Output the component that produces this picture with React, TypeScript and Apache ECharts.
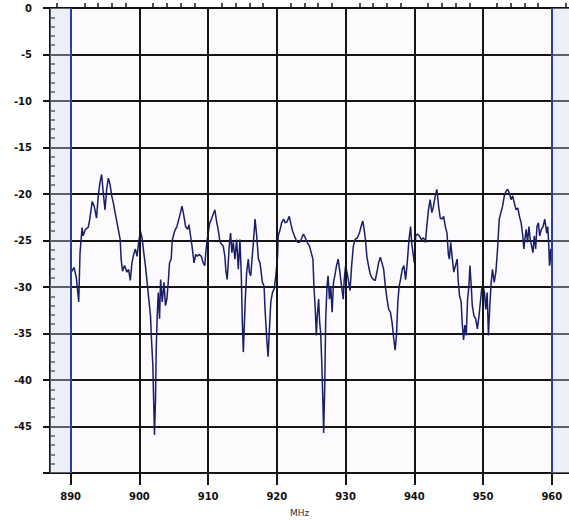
import React, { useEffect, useRef } from "react";
import * as echarts from "echarts";

// Frequency (MHz) of each sweep sample
const freqs = [
  890.1, 890.5, 890.83, 891.18, 891.37, 891.67, 891.81, 892.16, 892.55, 892.79,
  893.14, 893.43, 893.77, 894.02, 894.26, 894.51, 894.75, 895.0, 895.25, 895.49,
  895.74, 895.98, 896.23, 896.47, 896.86, 897.21, 897.35, 897.55, 897.84, 898.19,
  898.43, 898.68, 898.92, 899.17, 899.41, 899.66, 899.9, 900.15, 900.39, 900.64,
  900.88, 901.13, 901.37, 901.62, 901.76, 901.96, 902.06, 902.2, 902.35, 902.45,
  902.6, 902.75, 902.94, 903.09, 903.33, 903.58,
  903.8, 904.0, 904.2, 904.39, 904.63, 904.78, 905.12, 905.46, 905.85, 906.2,
  906.44, 906.73, 907.02, 907.22, 907.41, 907.71, 907.95, 908.2, 908.44, 908.68,
  909.02, 909.27, 909.51, 909.66, 909.85, 910.05, 910.24, 910.49, 910.73, 910.98,
  911.22, 911.46, 911.71, 911.95, 912.2, 912.44, 912.59, 912.78, 912.93, 913.07,
  913.27, 913.46, 913.66, 913.9, 914.15, 914.39, 914.63, 914.83, 914.98, 915.12,
  915.27, 915.41, 915.61, 915.85, 916.0, 916.2, 916.39, 916.59, 916.83,
  917.07, 917.32, 917.55, 917.9, 918.14, 918.28, 918.53, 918.73, 918.92, 919.12,
  919.36, 919.61, 919.85, 920.1, 920.2, 920.49, 920.69, 920.98, 921.23, 921.47,
  921.81, 922.06, 922.3, 922.55, 922.79, 923.04, 923.28, 923.53, 923.87, 924.12,
  924.41, 924.75, 925.0, 925.25, 925.39, 925.59, 925.74, 925.88, 926.08, 926.23,
  926.37, 926.52, 926.67, 926.81, 926.96, 927.11, 927.3, 927.45, 927.65, 927.84,
  928.04, 928.24, 928.43, 928.68, 928.92, 929.17, 929.41, 929.66, 929.8, 930.0,
  930.2, 930.39, 930.64, 930.88, 931.13, 931.37,
  931.72, 932.01, 932.25, 932.5, 932.7, 932.89, 933.09, 933.33, 933.58, 933.82,
  934.07, 934.31, 934.56, 934.8, 935.05, 935.29, 935.54, 935.78, 936.03, 936.27,
  936.52, 936.76, 937.01, 937.21, 937.4, 937.6, 937.79, 937.99, 938.24, 938.48,
  938.73, 938.97, 939.22, 939.46, 939.61, 939.8, 940.0, 940.2, 940.44, 940.74,
  941.03, 941.32, 941.62, 941.81, 942.06, 942.3, 942.55, 942.79, 943.04, 943.28,
  943.53, 943.77, 944.02, 944.26, 944.51, 944.75, 944.95, 945.1, 945.29, 945.49,
  945.74, 945.98, 946.23, 946.37, 946.57, 946.81, 946.96, 947.16, 947.35, 947.55,
  947.75, 947.94, 948.09, 948.28, 948.43, 948.68, 948.92, 949.17, 949.41, 949.61,
  949.8, 950.0, 950.2, 950.39, 950.59, 950.78, 950.98, 951.18, 951.37, 951.62,
  951.86, 952.11, 952.35, 952.6, 952.84, 953.09, 953.33, 953.58, 953.82, 954.07,
  954.31, 954.56, 954.8, 955.05, 955.29, 955.54, 955.78, 955.93, 956.08, 956.27,
  956.47, 956.67, 956.86, 957.06, 957.25, 957.45, 957.65, 957.84, 958.04, 958.24,
  958.48, 958.73, 958.97, 959.26, 959.41, 959.56, 959.66, 959.85, 960.0,
];

// Measured level (dB) of each sample
const levels = [
  -28.4, -27.9, -29.0, -31.6, -26.3, -23.6, -24.5, -23.8, -23.6, -22.7,
  -20.8, -21.3, -22.6, -20.2, -18.8, -17.9, -19.9, -21.7, -19.4, -18.3,
  -19.0, -20.2, -21.0, -22.0, -23.5, -24.9, -27.0, -28.3, -27.7, -28.4,
  -28.1, -29.3, -27.4, -26.5, -25.9, -26.7, -25.2, -24.0, -24.7, -26.3,
  -27.7, -29.5, -31.3, -33.1, -35.6, -38.4, -41.6, -45.9, -42.0, -36.7,
  -33.1, -30.6, -33.4, -29.2, -31.6, -29.5,
  -32.0, -31.3, -29.5, -27.4, -27.0, -25.0, -24.0, -23.5, -22.4, -21.3,
  -22.2, -23.5, -23.8, -23.3, -24.3, -25.9, -27.4, -26.5, -26.7, -26.5,
  -26.7, -27.4, -27.7, -26.3, -25.0, -24.0, -23.1, -22.7, -22.2, -21.7,
  -22.9, -23.8, -25.1, -25.4, -25.6, -26.7, -28.3, -29.2, -27.4, -25.6,
  -24.2, -26.3, -25.2, -27.0, -24.9, -28.1, -24.9, -28.8, -33.8, -37.0,
  -34.1, -31.3, -28.4, -27.0, -28.4, -28.8, -27.0, -25.2, -22.7,
  -24.5, -27.0, -27.4, -29.5, -29.9, -32.4, -35.6, -37.5, -34.5, -31.6,
  -30.6, -30.2, -28.8, -26.7, -24.5, -23.8, -23.1, -22.7, -23.1, -23.0,
  -22.4, -23.3, -24.0, -24.5, -24.9, -25.2, -25.2, -24.9, -24.3, -24.7,
  -25.2, -25.6, -26.3, -27.0, -29.9, -32.4, -35.2, -33.1, -31.3, -33.8,
  -34.9, -37.8, -41.6, -45.7, -40.9, -33.4, -29.9, -28.8, -31.3, -29.9,
  -32.7, -29.5, -28.8, -27.7, -27.0, -28.4, -29.9, -31.3, -29.2, -27.7,
  -28.4, -29.2, -30.4, -27.7, -25.6, -24.9,
  -24.7, -24.2, -23.5, -22.9, -23.8, -24.9, -26.7, -27.7, -28.6, -29.0,
  -29.2, -29.3, -28.4, -27.4, -26.8, -27.4, -28.1, -29.9, -31.3, -32.4,
  -32.7, -33.8, -35.6, -36.8, -35.2, -31.6, -29.9, -29.2, -28.1, -27.7,
  -29.2, -27.4, -24.9, -23.5, -25.2, -26.3, -27.4, -24.5, -24.3, -24.5,
  -24.9, -24.7, -25.2, -23.5, -21.7, -20.6, -22.0, -21.3, -20.2, -19.5,
  -21.3, -22.6, -22.7, -22.4, -23.5, -24.2, -26.5, -27.0, -25.2, -26.7,
  -28.4, -27.7, -27.0, -29.2, -30.9, -31.6, -33.8, -35.7, -34.1, -35.2,
  -31.3, -29.9, -27.7, -29.9, -32.0, -33.1, -33.4, -34.5, -33.1, -31.6,
  -30.2, -29.9, -30.6, -32.4, -30.6, -35.2, -32.0, -29.5, -28.1, -29.5,
  -28.4, -25.9, -22.7, -22.0, -21.3, -20.2, -19.7, -19.5, -19.9, -20.6,
  -20.2, -21.0, -21.7, -21.5, -22.4, -23.1, -24.5, -25.9, -24.9, -23.8,
  -25.2, -23.5, -24.9, -25.6, -26.3, -24.5, -25.9, -23.5, -23.1, -24.5,
  -23.8, -23.5, -22.7, -24.2, -23.5, -25.6, -27.7, -25.9, -28.0,
];

const xRange = [887, 962.5];
const yRange = [-50, 0];
const xMajorTicks = [890, 900, 910, 920, 930, 940, 950, 960];
const xMinorTicks = [
  888, 892, 894, 896, 898, 902, 904, 906, 908, 912, 914, 916, 918, 922, 924, 926, 928,
  932, 934, 936, 938, 942, 944, 946, 948, 952, 954, 956, 958, 962,
];
const bandEdges = [890, 960];
const xAxisTitle = "MHz";

export default function App() {
  const ref = useRef<HTMLDivElement>(null);
  useEffect(() => {
    const chart = echarts.init(ref.current as HTMLDivElement, null, { renderer: "svg" });
    const points = freqs.map((f, i) => [f, levels[i]]);
    const ink = "#151515";
    const labelStyle = {
      color: "#111",
      fontFamily: "DejaVu Sans",
      fontSize: 10,
      fontWeight: "bold" as const,
    };
    chart.setOption({
      animation: false,
      backgroundColor: "#ffffff",
      grid: {
        left: 50,
        right: 0,
        top: 8,
        bottom: 48,
        show: true,
        backgroundColor: "#fcfafd",
        borderWidth: 0,
      },
      xAxis: [
        {
          type: "value",
          min: xRange[0],
          max: xRange[1],
          position: "bottom",
          axisLine: { show: true, onZero: false, lineStyle: { color: ink, width: 2 } },
          axisTick: {
            show: true,
            inside: false,
            length: 12,
            customValues: xMajorTicks,
            lineStyle: { color: ink, width: 2 },
          },
          axisLabel: { ...labelStyle, customValues: xMajorTicks, margin: 18 },
          splitLine: { show: false },
        },
        {
          type: "value",
          min: xRange[0],
          max: xRange[1],
          position: "bottom",
          axisLine: { show: false },
          axisTick: {
            show: true,
            inside: true,
            length: 5,
            customValues: xMinorTicks,
            lineStyle: { color: ink, width: 1.5 },
          },
          axisLabel: { show: false },
          splitLine: { show: false },
        },
      ],
      yAxis: [
        {
          type: "value",
          min: yRange[0],
          max: yRange[1],
          interval: 5,
          axisLine: { show: true, onZero: false, lineStyle: { color: ink, width: 2 } },
          axisTick: { show: true, inside: false, length: 7, lineStyle: { color: ink, width: 2 } },
          axisLabel: {
            ...labelStyle,
            margin: 18,
            formatter: (v: number) => (v === yRange[0] ? "" : String(v)),
          },
          splitLine: { show: true, lineStyle: { color: ink, width: 2 } },
        },
        {
          type: "value",
          min: yRange[0],
          max: yRange[1],
          interval: 1,
          position: "left",
          axisLine: { show: false },
          axisTick: { show: true, inside: true, length: 5, lineStyle: { color: ink, width: 1.5 } },
          axisLabel: { show: false },
          splitLine: { show: false },
        },
      ],
      graphic: [
        {
          type: "text",
          left: 290,
          top: 508,
          style: { text: xAxisTitle, font: "9px DejaVu Sans", fill: "#333" },
        },
      ],
      series: [
        {
          name: "grid",
          type: "line",
          data: points,
          showSymbol: false,
          silent: true,
          z: 1,
          lineStyle: { opacity: 0 },
          markArea: {
            silent: true,
            itemStyle: { color: "rgba(210,218,240,0.38)" },
            data: [
              [{ xAxis: xRange[0] }, { xAxis: bandEdges[0] }],
              [{ xAxis: bandEdges[1] }, { xAxis: xRange[1] }],
            ],
          },
          markLine: {
            silent: true,
            symbol: "none",
            label: { show: false },
            data: [
              ...xMajorTicks
                .filter((v) => !bandEdges.includes(v))
                .map((v) => ({ xAxis: v, lineStyle: { color: ink, width: 2, type: "solid" } })),
              ...bandEdges.map((v) => ({
                xAxis: v,
                lineStyle: { color: "#2c3f9c", width: 2, type: "solid" },
              })),
            ],
          },
        },
        {
          name: "level",
          type: "line",
          data: points,
          showSymbol: false,
          z: 3,
          lineStyle: { color: "#1a1d68", width: 1.5 },
        },
      ],
    });
    return () => chart.dispose();
  }, []);
  return (
    <div
      ref={ref}
      style={{ position: "fixed", left: 0, top: 0, width: 569, height: 521, background: "#fff" }}
    />
  );
}
